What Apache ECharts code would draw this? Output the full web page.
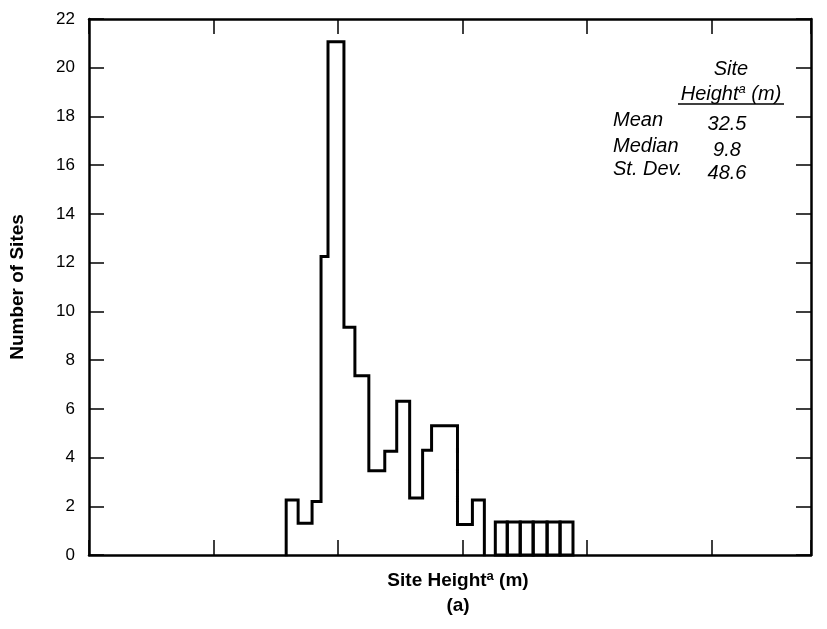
<!DOCTYPE html>
<html>
<head>
<meta charset="utf-8">
<script src="https://cdn.jsdelivr.net/npm/echarts@6/dist/echarts.min.js"></script>
<style>
html,body{margin:0;padding:0;background:#fff;}
#chart{width:827px;height:629px;}
</style>
</head>
<body>
<div id="chart"></div>
<script>
// Histogram bin edges (axis units; tick spacing = 1) and counts
const binEdges = [1.584, 1.68, 1.792, 1.864, 1.92, 2.048, 2.136, 2.248, 2.376, 2.472, 2.576, 2.68, 2.752, 2.96, 3.08, 3.176];
const binCounts = [2.26, 1.3, 2.2, 12.25, 21.07, 9.35, 7.36, 3.46, 4.26, 6.31, 2.34, 4.3, 5.3, 1.25, 2.26];
// separately drawn (divided) bins
const sepEdges = [3.264, 3.36, 3.464, 3.568, 3.68, 3.784, 3.888];
const sepCounts = [1.35, 1.35, 1.35, 1.35, 1.35, 1.35];
const yTicks = [0, 2, 4, 6, 8, 10, 12, 14, 16, 18, 20, 22];
const statLabels = ['Mean', 'Median', 'St. Dev.'];
const statValues = ['32.5', '9.8', '48.6'];

const FONT = "'Liberation Sans', Arial, Helvetica, sans-serif";

const stepData = [[binEdges[0], 0]];
for (let i = 0; i < binCounts.length; i++) stepData.push([binEdges[i], binCounts[i]]);
stepData.push([binEdges[binEdges.length - 1], 0]);

const sepData = sepCounts.map((v, i) => [sepEdges[i], sepEdges[i + 1], v]);

const chart = echarts.init(document.getElementById('chart'), null, {renderer: 'canvas'});

const X_MAX = 5.8;
const axisCommon = {
  type: 'value', min: 0, max: X_MAX, interval: 1,
  axisLine: {show: true, onZero: false, lineStyle: {color: '#000', width: 2.5}},
  axisTick: {show: true, inside: true, length: 15, lineStyle: {color: '#000', width: 1.5}},
  axisLabel: {show: false},
  splitLine: {show: false}
};
const yCommon = {
  type: 'value', min: 0, max: 22, interval: 2,
  axisLine: {show: true, onZero: false, lineStyle: {color: '#000', width: 2.5}},
  axisTick: {show: true, inside: true, length: 15, lineStyle: {color: '#000', width: 1.5}},
  splitLine: {show: false}
};

const statGraphics = [];
const rowY = [120, 146, 169];
statLabels.forEach((t, i) => {
  statGraphics.push({type: 'text', x: 613, y: rowY[i],
    style: {text: t, font: 'italic 20px ' + FONT, fill: '#000', textAlign: 'left', textVerticalAlign: 'middle'}});
  statGraphics.push({type: 'text', x: 727, y: rowY[i] + 4,
    style: {text: statValues[i], font: 'italic 20px ' + FONT, fill: '#000', textAlign: 'center', textVerticalAlign: 'middle'}});
});

chart.setOption({
  animation: false,
  backgroundColor: '#fff',
  grid: {left: 86, top: 19, width: 725, bottom: 74, containLabel: false, show: false},
  xAxis: [
    Object.assign({position: 'bottom'}, axisCommon),
    Object.assign({position: 'top'}, axisCommon)
  ],
  yAxis: [
    Object.assign({position: 'left',
      axisLabel: {show: true, color: '#000', fontSize: 17, fontFamily: FONT, margin: 14,
        formatter: v => yTicks.indexOf(v) >= 0 ? String(v) : ''},
      name: 'Number of Sites', nameLocation: 'middle', nameGap: 62, nameRotate: 90,
      nameTextStyle: {color: '#000', fontSize: 19, fontWeight: 'bold', fontFamily: FONT}
    }, yCommon),
    Object.assign({position: 'right', axisLabel: {show: false}}, yCommon)
  ],
  series: [
    {
      type: 'line', xAxisIndex: 0, yAxisIndex: 0, step: 'end',
      data: stepData, symbol: 'none', silent: true,
      lineStyle: {color: '#000', width: 3, join: 'miter', cap: 'square'}
    },
    {
      type: 'custom', xAxisIndex: 0, yAxisIndex: 0, data: sepData, silent: true,
      renderItem: function (params, api) {
        const p0 = api.coord([api.value(0), api.value(2)]);
        const p1 = api.coord([api.value(1), 0]);
        return {
          type: 'rect',
          shape: {x: p0[0], y: p0[1], width: p1[0] - p0[0], height: p1[1] - p0[1]},
          style: {fill: 'none', stroke: '#000', lineWidth: 3, lineJoin: 'miter'}
        };
      }
    }
  ],
  graphic: [
    {type: 'text', x: 458, y: 581, style: {
      rich: {b: {font: 'bold 19px ' + FONT, fill: '#000'}, s: {font: 'bold 13px ' + FONT, fill: '#000', padding: [0, 0, 9, 0]}},
      text: '{b|Site Height}{s|a}{b| (m)}', textAlign: 'center', textVerticalAlign: 'middle'}},
    {type: 'text', x: 458, y: 606, style: {text: '(a)', font: 'bold 19px ' + FONT, fill: '#000', textAlign: 'center', textVerticalAlign: 'middle'}},
    {type: 'text', x: 731, y: 69, style: {text: 'Site', font: 'italic 20px ' + FONT, fill: '#000', textAlign: 'center', textVerticalAlign: 'middle'}},
    {type: 'text', x: 731, y: 94, style: {
      rich: {i: {font: 'italic 20px ' + FONT, fill: '#000'}, s: {font: 'italic 13px ' + FONT, fill: '#000', padding: [0, 0, 9, 0]}},
      text: '{i|Height}{s|a}{i| (m)}', textAlign: 'center', textVerticalAlign: 'middle'}},
    {type: 'line', shape: {x1: 678, y1: 104, x2: 784, y2: 104}, style: {stroke: '#000', lineWidth: 1.5}}
  ].concat(statGraphics)
});
</script>
</body>
</html>
